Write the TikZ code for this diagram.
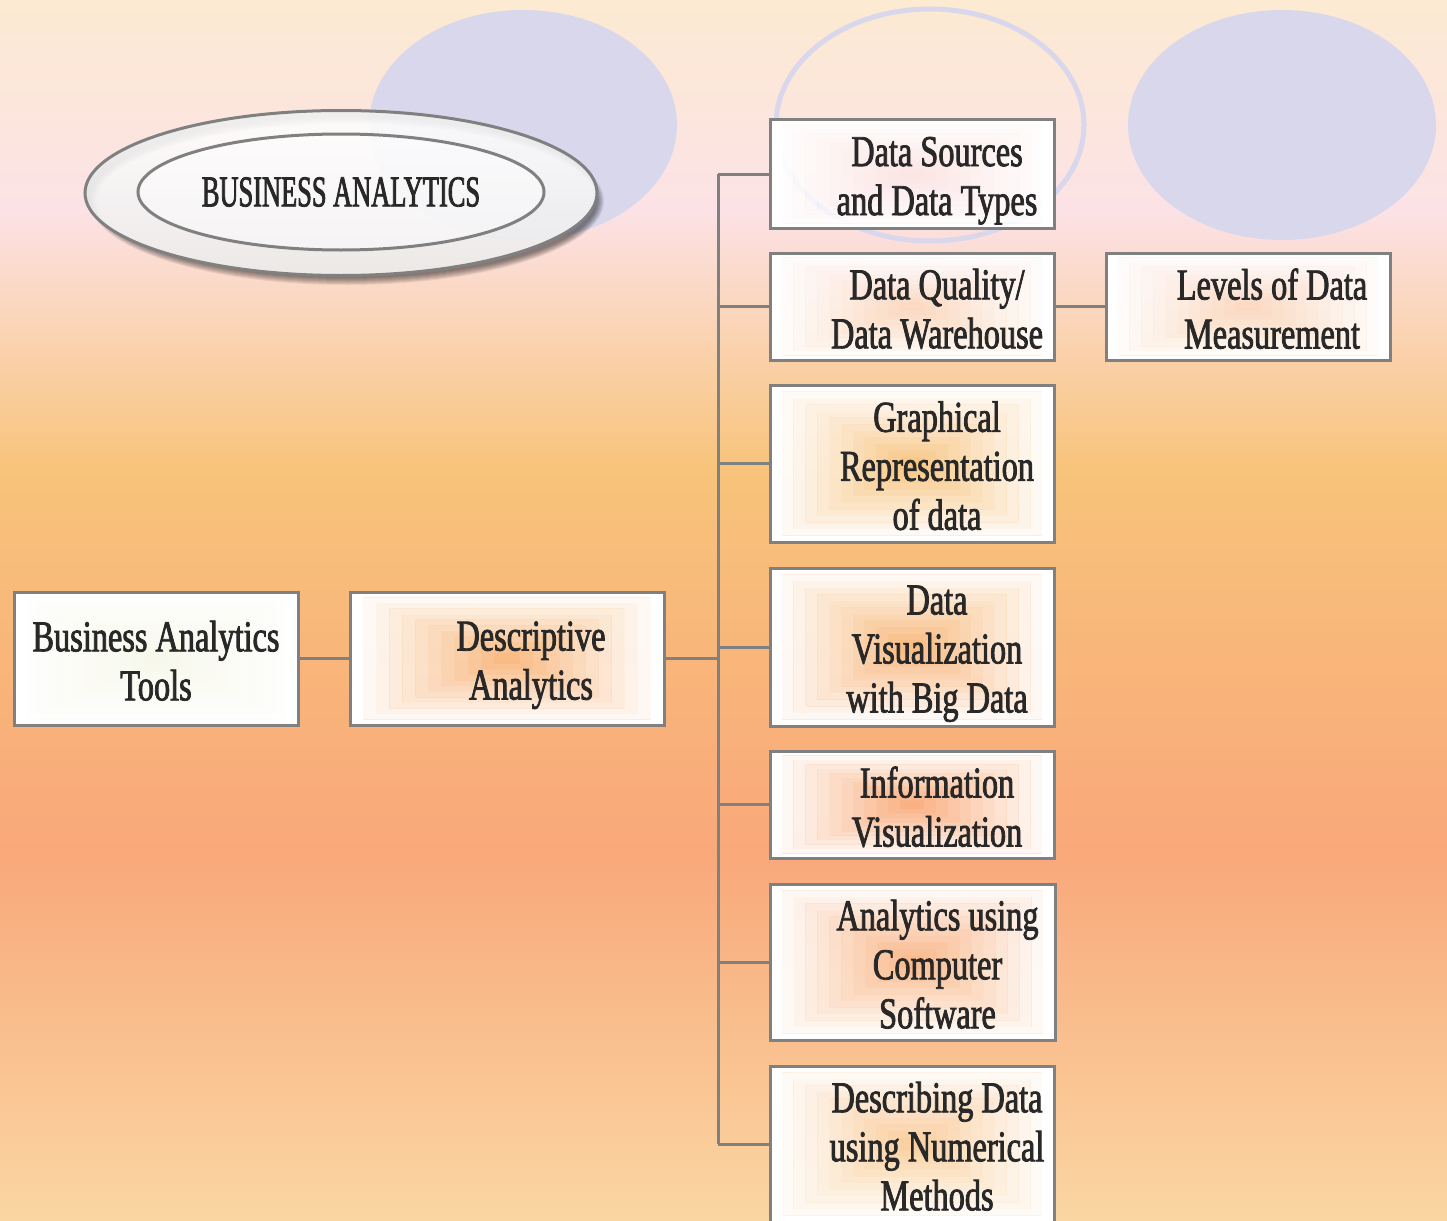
\documentclass[tikz,border=0pt]{standalone}
\usepackage{fontspec}
\setmainfont{Liberation Serif}[FakeStretch=0.735,FakeBold=1.8]
\newfontfamily\titlefont{Liberation Serif}[FakeStretch=0.6,FakeBold=1.8]
\usetikzlibrary{shapes.geometric,calc}

\definecolor{bgA}{RGB}{252,234,210}
\definecolor{bgB}{RGB}{252,226,230}
\definecolor{bgC}{RGB}{248,195,122}
\definecolor{bgD}{RGB}{249,168,122}
\definecolor{bgE}{RGB}{250,214,162}
\definecolor{lav}{RGB}{217,215,236}
\definecolor{edge}{RGB}{128,128,128}
\definecolor{ink}{RGB}{40,40,40}
\definecolor{cream}{RGB}{247,248,234}

\tikzset{
  % white frame that fades towards a see-through centre
  bandfill/.style={path picture={
    \foreach \k in {0,...,11}{
      \pgfmathsetmacro\so{1-\k/12}
      \pgfmathsetmacro\si{1-(\k+1)/12}
      \pgfmathsetmacro\op{1-\k/12}
      \fill[white, fill opacity=\op, even odd rule]
        ($(path picture bounding box.center)!\so!(path picture bounding box.south west)$) rectangle
        ($(path picture bounding box.center)!\so!(path picture bounding box.north east)$)
        ($(path picture bounding box.center)!\si!(path picture bounding box.south west)$) rectangle
        ($(path picture bounding box.center)!\si!(path picture bounding box.north east)$);
    }}},
  gbox/.style={rectangle, draw=edge, line width=3pt, inner sep=0pt,
    minimum width=284pt, bandfill},
  lbl/.style={align=center, inner sep=0pt, text=ink, text depth=0pt,
    font=\fontsize{44}{49}\selectfont},
  conn/.style={draw=edge, line width=3pt},
  lavdisc/.style={ellipse, fill=lav, inner sep=0pt, minimum width=308pt, minimum height=230pt},
}

\begin{document}
\begin{tikzpicture}[x=1pt,y=-1pt]
\useasboundingbox (0,0) rectangle (1447,1220);

% background wash
\shade[top color=bgA, bottom color=bgB] (0,0) rectangle (1447,211);
\shade[top color=bgB, bottom color=bgC] (0,210) rectangle (1447,471);
\shade[top color=bgC, bottom color=bgD] (0,470) rectangle (1447,851);
\shade[top color=bgD, bottom color=bgE] (0,850) rectangle (1447,1220);

% decorative discs and ring
\node[lavdisc] (discL) at (523,125) {};
\node[lavdisc] (discR) at (1282,125) {};
\node[ellipse, draw=lav, line width=5pt, inner sep=0pt,
      minimum width=308pt, minimum height=232pt] (ring) at (930,125) {};

% title badge: soft shadow (kept outside the rim), outer rim, inner oval
\foreach \i in {0,...,7}{
  \fill[black, opacity=0.07, even odd rule]
    (347,201) ellipse [x radius={250+\i}, y radius={77+\i}]
    (341,193) ellipse [x radius=256, y radius=82.5];
}
\node[ellipse, draw=edge, line width=3pt, inner sep=0pt,
      top color=white, bottom color=black!8, fill opacity=0.88,
      minimum width=512pt, minimum height=165pt] (badge) at (341,193) {};
\node[ellipse, draw=edge, line width=3pt, inner sep=0pt,
      fill=white, fill opacity=0.45, text opacity=1, text=ink,
      minimum width=406pt, minimum height=116pt,
      font=\titlefont\fontsize{44}{49}\selectfont] (title) at (341,192) {BUSINESS ANALYTICS};

% boxes
\node[gbox, minimum height=133pt, fill=cream] (bat) at (156,658.5) {};
\node[gbox, minimum width=314pt, minimum height=133pt] (da) at (507,658.5) {};
\node[gbox, minimum height=108pt] (ds) at (912,174) {};
\node[gbox, minimum height=107pt] (dq) at (912,306.5) {};
\node[gbox, minimum height=107pt] (lm) at (1248,306.5) {};
\node[gbox, minimum height=157pt] (gr) at (912,463.5) {};
\node[gbox, minimum height=158pt] (dv) at (912,647) {};
\node[gbox, minimum height=107pt] (iv) at (912,804.5) {};
\node[gbox, minimum width=285pt, minimum height=156pt] (ac) at (912.5,962) {};
\node[gbox, minimum height=156pt] (dd) at (912,1144) {};

% box texts
\node[lbl] (bat-t) at ([yshift=-2pt]bat.center) {Business Analytics\\Tools};
\node[lbl] (da-t) at ([xshift=24pt,yshift=-2pt]da.center) {Descriptive\\Analytics};
\node[lbl] (ds-t) at ([xshift=25pt,yshift=-2pt]ds.center) {Data Sources\\and Data Types};
\node[lbl] (dq-t) at ([xshift=25pt,yshift=-2pt]dq.center) {Data Quality/\\Data Warehouse};
\node[lbl] (lm-t) at ([xshift=24pt,yshift=-2pt]lm.center) {Levels of Data\\Measurement};
\node[lbl] (gr-t) at ([xshift=25pt,yshift=-2pt]gr.center) {Graphical\\Representation\\of data};
\node[lbl] (dv-t) at ([xshift=25pt,yshift=-2pt]dv.center) {Data\\Visualization\\with Big Data};
\node[lbl] (iv-t) at ([xshift=25pt,yshift=-2pt]iv.center) {Information\\Visualization};
\node[lbl] (ac-t) at ([xshift=25pt,yshift=-2pt]ac.center) {Analytics using\\Computer\\Software};
\node[lbl] (dd-t) at ([xshift=25pt,yshift=-2pt]dd.center) {Describing Data\\using Numerical\\Methods};

% connectors
\coordinate (bus) at (718,0);
\draw[conn] (bat.east) -- (da.west);
\draw[conn] (da.east) -- (da.east -| bus);
\draw[conn] (ds.west -| bus) -- (dd.west -| bus);
\foreach \b in {ds,dq,gr,dv,iv,ac,dd}{
  \draw[conn] (\b.west -| bus) -- (\b.west);
}
\draw[conn] (dq.east) -- (lm.west);
\end{tikzpicture}
\end{document}
